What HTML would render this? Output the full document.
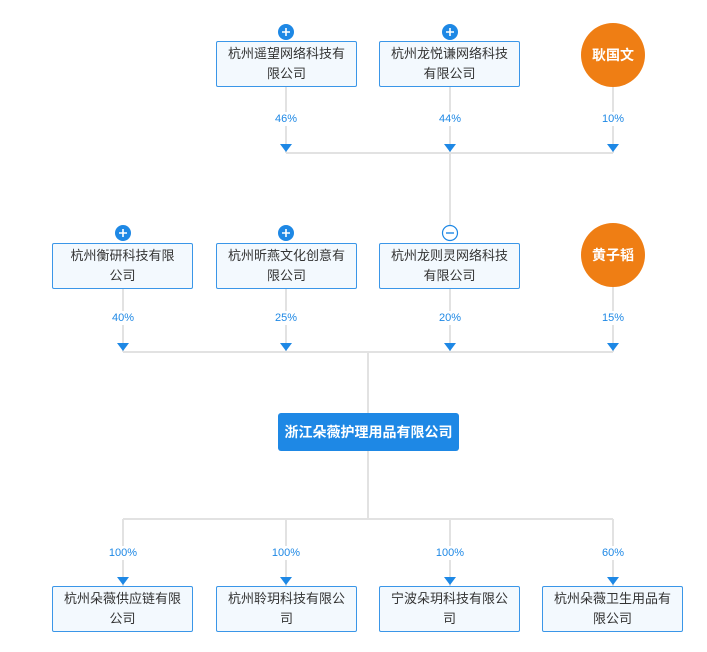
<!DOCTYPE html>
<html><head><meta charset="utf-8"><style>
body{margin:0;width:707px;height:652px;background:#fff;position:relative;overflow:hidden;font-family:"Liberation Sans","Noto Sans CJK SC",sans-serif}
.b{position:absolute;border:1px solid #3a96e8;border-radius:2px;background:#f3f9fe;color:#333;font-size:13px;line-height:20px;text-align:center;display:flex;align-items:center;justify-content:center;padding:0 2px;box-sizing:border-box;width:141px;height:46px;white-space:nowrap}
.c{position:absolute;width:64px;height:64px;border-radius:50%;background:#ef7e14;color:#fff;font-weight:bold;font-size:14px;display:flex;align-items:center;justify-content:center}
.p{position:absolute;font-size:11px;color:#1e88e5;width:50px;text-align:center;background:#fff;line-height:14px}
.m{position:absolute;left:278px;top:413px;width:181px;height:38px;background:#1e88e5;border-radius:3px;color:#fff;font-weight:bold;font-size:14px;display:flex;align-items:center;justify-content:center}
svg{position:absolute;left:0;top:0}
</style></head><body>
<svg width="707" height="652">
<g stroke="#e2e2e2" stroke-width="2" fill="none">
<path d="M286 87V153M450 87V225M613 87V153M286 153H613"/>
<path d="M123 289V352M286 289V352M450 289V352M613 287V352M123 352H613M368 352V413"/>
<path d="M368 451V519M123 519H613M123 519V586M286 519V586M450 519V586M613 519V586"/>
</g>
<g fill="#1e88e5">
<path d="M280 144h12l-6 8zM444 144h12l-6 8zM607 144h12l-6 8z"/>
<path d="M117 343h12l-6 8zM280 343h12l-6 8zM444 343h12l-6 8zM607 343h12l-6 8z"/>
<path d="M117 577h12l-6 8zM280 577h12l-6 8zM444 577h12l-6 8zM607 577h12l-6 8z"/>
<circle cx="286" cy="32" r="8"/><circle cx="450" cy="32" r="8"/>
<circle cx="123" cy="233" r="8"/><circle cx="286" cy="233" r="8"/>
</g>
<g stroke="#fff" stroke-width="1.6">
<path d="M282 32h8M286 28v8M446 32h8M450 28v8M119 233h8M123 229v8M282 233h8M286 229v8"/>
</g>
<circle cx="450" cy="233" r="7.5" fill="#fff" stroke="#1e88e5" stroke-width="1.2"/>
<path d="M446 233h8" stroke="#1e88e5" stroke-width="1.4"/>
</svg>
<div class="b" style="left:216px;top:41px">杭州遥望网络科技有<br>限公司</div>
<div class="b" style="left:379px;top:41px">杭州龙悦谦网络科技<br>有限公司</div>
<div class="c" style="left:581px;top:23px">耿国文</div>
<div class="p" style="left:261px;top:112px">46%</div>
<div class="p" style="left:425px;top:112px">44%</div>
<div class="p" style="left:588px;top:112px">10%</div>
<div class="b" style="left:52px;top:243px">杭州衡研科技有限<br>公司</div>
<div class="b" style="left:216px;top:243px">杭州昕燕文化创意有<br>限公司</div>
<div class="b" style="left:379px;top:243px">杭州龙则灵网络科技<br>有限公司</div>
<div class="c" style="left:581px;top:223px">黄子韬</div>
<div class="p" style="left:98px;top:311px">40%</div>
<div class="p" style="left:261px;top:311px">25%</div>
<div class="p" style="left:425px;top:311px">20%</div>
<div class="p" style="left:588px;top:311px">15%</div>
<div class="m">浙江朵薇护理用品有限公司</div>
<div class="p" style="left:98px;top:546px">100%</div>
<div class="p" style="left:261px;top:546px">100%</div>
<div class="p" style="left:425px;top:546px">100%</div>
<div class="p" style="left:588px;top:546px">60%</div>
<div class="b" style="left:52px;top:586px">杭州朵薇供应链有限<br>公司</div>
<div class="b" style="left:216px;top:586px">杭州聆玥科技有限公<br>司</div>
<div class="b" style="left:379px;top:586px">宁波朵玥科技有限公<br>司</div>
<div class="b" style="left:542px;top:586px">杭州朵薇卫生用品有<br>限公司</div>
</body></html>
